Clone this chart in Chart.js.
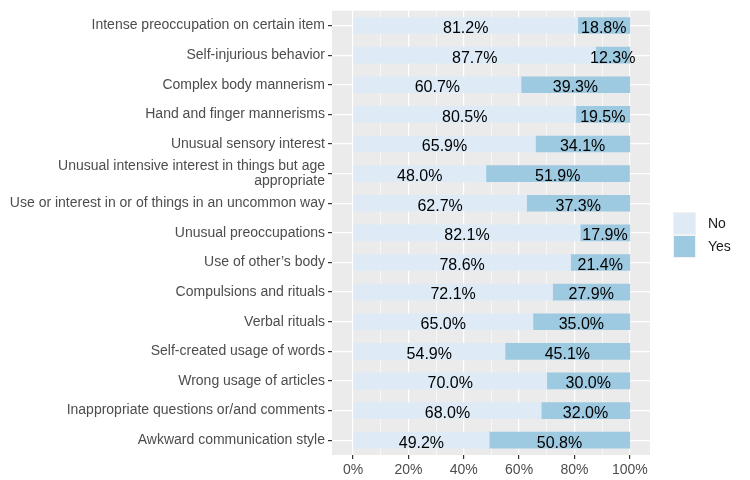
<!DOCTYPE html>
<html>
<head>
<meta charset="utf-8">
<script src="https://cdn.jsdelivr.net/npm/chart.js@4"></script>
<style>
html,body{margin:0;padding:0;background:#fff;}
#wrap{width:750px;height:480px;}
</style>
</head>
<body>
<div id="wrap"><canvas id="c" width="750" height="480"></canvas></div>
<script>
const categories = [
  "Intense preoccupation on certain item",
  "Self-injurious behavior",
  "Complex body mannerism",
  "Hand and finger mannerisms",
  "Unusual sensory interest",
  ["Unusual intensive interest in things but age", "appropriate"],
  "Use or interest in or of things in an uncommon way",
  "Unusual preoccupations",
  "Use of other\u2019s body",
  "Compulsions and rituals",
  "Verbal rituals",
  "Self-created usage of words",
  "Wrong usage of articles",
  "Inappropriate questions or/and comments",
  "Awkward communication style"
];
const noValues  = [81.2, 87.7, 60.7, 80.5, 65.9, 48.0, 62.7, 82.1, 78.6, 72.1, 65.0, 54.9, 70.0, 68.0, 49.2];
const yesValues = [18.8, 12.3, 39.3, 19.5, 34.1, 51.9, 37.3, 17.9, 21.4, 27.9, 35.0, 45.1, 30.0, 32.0, 50.8];
const seriesNames = ["No", "Yes"];
const xTickValues = [0, 10, 20, 30, 40, 50, 60, 70, 80, 90, 100];

const colors = ["#deebf7", "#9ecae1"];
const FONT = "'Liberation Sans', Arial, sans-serif";

const panelBg = {
  id: 'panelBg',
  beforeDraw(chart) {
    const a = chart.chartArea, ctx = chart.ctx;
    ctx.save();
    ctx.fillStyle = '#ebebeb';
    ctx.fillRect(a.left, a.top, a.right - a.left, a.bottom - a.top);
    ctx.restore();
  }
};

const segLabels = {
  id: 'segLabels',
  afterDatasetsDraw(chart) {
    const ctx = chart.ctx;
    ctx.save();
    ctx.font = "16px " + FONT;
    ctx.fillStyle = '#000';
    ctx.textAlign = 'center';
    ctx.textBaseline = 'middle';
    chart.data.datasets.forEach((ds, di) => {
      const meta = chart.getDatasetMeta(di);
      meta.data.forEach((el, i) => {
        const cx = (el.x + el.base) / 2;
        ctx.fillText(ds.data[i].toFixed(1) + '%', cx, el.y + 3);
      });
    });
    ctx.restore();
  }
};

const sideLegend = {
  id: 'sideLegend',
  afterDraw(chart) {
    const ctx = chart.ctx;
    const x0 = 673, y0 = 212, w = 23, h = 23;
    ctx.save();
    ctx.font = "14px " + FONT;
    ctx.textAlign = 'left';
    ctx.textBaseline = 'middle';
    chart.data.datasets.forEach((ds, i) => {
      const y = y0 + i * h;
      ctx.fillStyle = '#f2f2f2';
      ctx.fillRect(x0, y, w, h);
      ctx.fillStyle = ds.backgroundColor;
      ctx.fillRect(x0 + 1, y + 1, w - 2, h - 2);
      ctx.fillStyle = '#1a1a1a';
      ctx.fillText(ds.label, x0 + w + 12, y + h / 2 + 1);
    });
    ctx.restore();
  }
};

new Chart(document.getElementById('c'), {
  type: 'bar',
  data: {
    labels: categories,
    datasets: [
      { label: seriesNames[0], data: noValues, backgroundColor: colors[0], barThickness: 16 },
      { label: seriesNames[1], data: yesValues, backgroundColor: colors[1], barThickness: 16 }
    ]
  },
  options: {
    indexAxis: 'y',
    responsive: false,
    animation: false,
    layout: { padding: { top: 7, right: 100, left: 0, bottom: 0 } },
    plugins: { legend: { display: false }, tooltip: { enabled: false } },
    scales: {
      x: {
        stacked: true,
        min: -7.6,
        max: 107.3,
        afterBuildTicks(scale) { scale.ticks = xTickValues.map(v => ({ value: v })); },
        afterFit(scale) { scale.height = 25; },
        border: { display: false },
        grid: {
          color: '#ffffff',
          lineWidth: ctx => (ctx.tick && ctx.tick.value % 20 === 0) ? 1.2 : 0.6,
          tickColor: ctx => (ctx.tick && ctx.tick.value % 20 === 0) ? '#333333' : 'rgba(0,0,0,0)',
          tickLength: 4,
          drawTicks: true
        },
        ticks: {
          autoSkip: false,
          maxRotation: 0,
          padding: 3,
          color: '#4d4d4d',
          font: { family: FONT, size: 14 },
          callback: (v) => (v % 20 === 0) ? v + '%' : ''
        }
      },
      y: {
        stacked: true,
        afterFit(scale) { scale.width = 332; },
        border: { display: false },
        grid: {
          offset: false,
          color: '#ffffff',
          lineWidth: 1.2,
          tickColor: '#333333',
          tickLength: 4
        },
        ticks: {
          autoSkip: false,
          padding: 3,
          color: '#4d4d4d',
          font: { family: FONT, size: 14, lineHeight: 1.1 }
        }
      }
    }
  },
  plugins: [panelBg, segLabels, sideLegend]
});
</script>
</body>
</html>
